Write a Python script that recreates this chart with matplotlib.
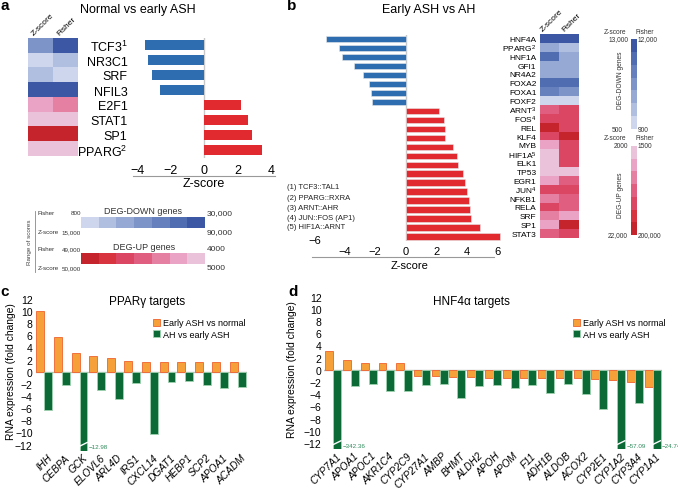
import matplotlib
matplotlib.use('Agg')
import matplotlib.pyplot as plt
import numpy as np
from matplotlib.colors import to_rgb
from matplotlib.patches import Patch
from matplotlib.lines import Line2D

plt.rcParams['font.family'] = ['Liberation Sans', 'DejaVu Sans']
plt.rcParams['mathtext.fontset'] = 'custom'
plt.rcParams['mathtext.rm'] = 'Liberation Sans'
plt.rcParams['mathtext.it'] = 'Liberation Sans:italic'
plt.rcParams['axes.unicode_minus'] = True

# ---------------- data ----------------
# panel a
a_labels = ['TCF3$^1$', 'NR3C1', 'SRF', 'NFIL3', 'E2F1', 'STAT1', 'SP1', 'PPARG$^2$']
a_z = [-3.54, -3.38, -3.14, -2.62, 2.24, 2.66, 2.86, 3.5]
a_hm_z = [-4, -1, -2, -7, 2, 1, 7, 1]      # colour level (neg = DEG-down scale, pos = DEG-up scale)
a_hm_f = [-7, -2, -1, -7, 3, 1, 7, 1]
a_xticks = [-4, -2, 0, 2, 4]

# panel b
b_labels = ['HNF4A', 'PPARG$^2$', 'HNF1A', 'GFI1', 'NR4A2', 'FOXA2', 'FOXA1', 'FOXF2',
            'ARNT$^3$', 'FOS$^4$', 'REL', 'KLF4', 'MYB', 'HIF1A$^5$', 'ELK1', 'TP53', 'EGR1',
            'JUN$^4$', 'NFKB1', 'RELA', 'SRF', 'SP1', 'STAT3']
b_z = [-5.21, -4.36, -4.18, -3.36, -2.79, -2.42, -2.27, -2.18,
       2.18, 2.53, 2.57, 2.57, 3.12, 3.38, 3.44, 3.75, 3.90, 3.99, 4.14, 4.23, 4.27, 4.86, 6.2]
b_hm_z = [-7, -3, -6, -3, -3, -6, -5, -1, 4, 5, 7, 5, 2, 1, 1, 1, 2, 5, 3, 5, 3, 2, 4]
b_hm_f = [-7, -2, -3, -3, -3, -6, -4, -1, 5, 5, 5, 7, 5, 5, 5, 1, 4, 5, 4, 4, 2, 7, 5]
b_xticks = [-4, -2, 0, 2, 4, 6]
b_notes = ['(1) TCF3::TAL1', '(2) PPARG::RXRA', '(3) ARNT::AHR', '(4) JUN::FOS (AP1)', '(5) HIF1A::ARNT']

# panel c
c_genes = ['IHH', 'CEBPA', 'GCK', 'ELOVL6', 'ARL4D', 'IRS1', 'CXCL14', 'DGAT1', 'HEBP1', 'SCP2', 'APOA1', 'ACADM']
c_early = [9.9, 5.7, 3.0, 2.5, 2.25, 1.75, 1.6, 1.6, 1.6, 1.6, 1.6, 1.6]
c_ah = [-6.25, -2.15, -12.98, -3.0, -4.55, -1.92, -10.2, -1.75, -1.48, -2.2, -2.75, -2.52]

# panel d
d_genes = ['CYP7A1', 'APOA1', 'APOC1', 'AKR1C4', 'CYP2C9', 'CYP27A1', 'AMBP', 'BHMT', 'ALDH2', 'APOH',
           'APOM', 'F11', 'ADH1B', 'ALDOB', 'ACOX2', 'CYP2E1', 'CYP1A2', 'CYP3A4', 'CYP1A1']
d_early = [3.0, 1.6, 1.15, 1.05, 1.05, -1.0, -1.0, -1.15, -1.2, -1.3, -1.3, -1.3, -1.3, -1.3, -1.37,
           -1.6, -1.7, -2.0, -2.85]
d_ah = [-342.36, -2.7, -2.3, -3.55, -3.5, -2.57, -2.4, -4.6, -2.7, -2.45, -3.0, -2.45, -3.85, -2.3,
        -3.95, -6.45, -57.09, -5.4, -24.74]
fc_yticks = list(range(-12, 13, 2))

# colour scales
DOWN = ['#cdd6ec', '#b0bee0', '#96a9d4', '#7d94c9', '#6680bd', '#506db2', '#3c58a5']
UP = ['#eac3da', '#eaa3c4', '#e680a3', '#e05f80', '#db4762', '#d83440', '#c5242d']
BLUE = '#2f6db1'
RED = '#e02a30'
ORANGE = '#f6a03a'
ORANGE_EDGE = '#f0622e'
GREEN = '#0c6a37'
GREEN_EDGE = '#9fd2b0'

def lvl(l):
    return to_rgb(DOWN[-l - 1]) if l < 0 else to_rgb(UP[l - 1])

# ---------------- figure ----------------
W, H = 678, 489
fig = plt.figure(figsize=(W / 100, H / 100), dpi=100)

def add_ax(l, t, r, b):
    return fig.add_axes([l / W, 1 - b / H, (r - l) / W, (b - t) / H])

def ftext(x, y, s, **kw):
    return fig.text(x / W, 1 - y / H, s, **kw)

def fline(x0, y0, x1, y1, **kw):
    fig.add_artist(Line2D([x0 / W, x1 / W], [1 - y0 / H, 1 - y1 / H], transform=fig.transFigure, **kw))

def clean(ax):
    for s in ax.spines.values():
        s.set_visible(False)

# panel letters & titles
for x, y, s in [(5, 6, 'a'), (292, 6, 'b'), (5, 292, 'c'), (293, 292, 'd')]:
    ftext(x, y, s, fontsize=11, fontweight='bold', ha='center', va='center')
ftext(138, 10, 'Normal vs early ASH', fontsize=9, ha='center', va='center')
ftext(429, 10, 'Early ASH vs AH', fontsize=9, ha='center', va='center')

# ---- panel a heatmap
ax = add_ax(28, 39, 78, 157)
img = np.array([[lvl(z), lvl(f)] for z, f in zip(a_hm_z, a_hm_f)])
ax.imshow(img, aspect='auto', interpolation='nearest')
ax.axis('off')
ftext(35, 37, 'Z-score', fontsize=6, rotation=45, rotation_mode='anchor', ha='left', va='bottom')
ftext(61, 37, 'Fisher', fontsize=6, rotation=45, rotation_mode='anchor', ha='left', va='bottom')

# ---- panel a bars
ax = add_ax(133.2, 38.5, 274.9, 158.5)
y = np.arange(len(a_z))
ax.barh(y, a_z, height=0.65, color=[BLUE if v < 0 else RED for v in a_z], zorder=2)
ax.axvline(0, color='#c8c8c8', lw=1, zorder=1)
ax.set_xlim(-4.25, 4.25)
ax.set_ylim(len(a_z) - 0.5, -0.5)
ax.set_xticks(a_xticks)
ax.set_yticks(y, a_labels)
ax.tick_params(length=0, labelsize=9)
ax.tick_params(axis='x', pad=4.5)
ax.tick_params(axis='y', pad=4)
clean(ax)
fline(133, 177, 275, 177, color='#999999', lw=0.8)
ftext(204, 184, 'Z-score', fontsize=9, ha='center', va='center')

# ---- panel a range legend
ax = add_ax(81, 218, 205, 229)
ax.imshow(np.array([[to_rgb(c) for c in DOWN]]), aspect='auto', interpolation='nearest')
ax.axis('off')
ax = add_ax(81, 254, 205, 265)
ax.imshow(np.array([[to_rgb(c) for c in UP[::-1]]]), aspect='auto', interpolation='nearest')
ax.axis('off')
fline(35, 212, 35, 273, color='#888888', lw=0.6)
ftext(29, 242, 'Range of scores', fontsize=4.5, rotation=90, ha='center', va='center', color='#444444')
for yy, a, b in [(214, 'Fisher', '800'), (233, 'Z-score', '15,000'), (250, 'Fisher', '49,000'), (269, 'Z-score', '50,000')]:
    ftext(38, yy, a, fontsize=4.5, ha='left', va='center', color='#333333')
    ftext(81, yy, b, fontsize=4.5, ha='right', va='center', color='#333333')
for yy, s in [(214, '30,000'), (233, '90,000'), (250, '4000'), (269, '5000')]:
    ftext(207, yy, s, fontsize=6, ha='left', va='center', color='#333333')
ftext(143, 211, 'DEG-DOWN genes', fontsize=6.5, ha='center', va='center', color='#333333')
ftext(144, 248, 'DEG-UP genes', fontsize=6.5, ha='center', va='center', color='#333333')

# ---- panel b bars
ax = add_ax(312.4, 35.5, 502, 242.3)
y = np.arange(len(b_z))
ax.barh(y, b_z, height=0.75, color=[BLUE if v < 0 else RED for v in b_z], zorder=2,
        edgecolor='#e8e8e8', linewidth=0.4)
ax.axvline(0, color='#c8c8c8', lw=1, zorder=1)
ax.set_xlim(-6.1, 6.3)
ax.set_ylim(len(b_z) - 0.5, -0.5)
ax.set_xticks(b_xticks)
ax.set_yticks([])
ax.tick_params(length=0, labelsize=8, pad=3.5)
clean(ax)
ftext(315, 241, '\u22126', fontsize=8, ha='center', va='center')
fline(312, 258, 494, 258, color='#999999', lw=0.8)
ftext(410, 266, 'Z-score', fontsize=8, ha='center', va='center')
for i, s in enumerate(b_notes):
    ftext(287, 188 + 10 * i, s, fontsize=5.5, ha='left', va='center', color='#222222')

# ---- panel b heatmap
ax = add_ax(540, 35, 579, 239)
img = np.array([[lvl(z), lvl(f)] for z, f in zip(b_hm_z, b_hm_f)])
ax.imshow(img, aspect='auto', interpolation='nearest')
ax.set_xticks([])
ax.set_yticks(np.arange(len(b_labels)), b_labels)
ax.tick_params(length=0, labelsize=6.0, pad=2.5)
clean(ax)
ftext(544, 33, 'Z-score', fontsize=6, rotation=45, rotation_mode='anchor', ha='left', va='bottom')
ftext(566, 33, 'Fisher', fontsize=6, rotation=45, rotation_mode='anchor', ha='left', va='bottom')

# ---- panel b colour scales
ax = add_ax(631, 40, 637, 130)
ax.imshow(np.array([[to_rgb(c)] for c in DOWN[::-1]]), aspect='auto', interpolation='nearest')
ax.axis('off')
ax = add_ax(631, 147, 637, 236)
ax.imshow(np.array([[to_rgb(c)] for c in UP]), aspect='auto', interpolation='nearest')
ax.axis('off')
cb = dict(fontsize=4.8, va='center', color='#333333')
ftext(615, 33, 'Z-score', ha='center', **cb)
ftext(645, 33, 'Fisher', ha='center', **cb)
ftext(629, 40, '13,000', ha='right', **cb)
ftext(638, 40, '12,000', ha='left', **cb)
ftext(623, 130, '500', ha='right', **cb)
ftext(638, 130, '900', ha='left', **cb)
ftext(615, 139, 'Z-score', ha='center', **cb)
ftext(645, 139, 'Fisher', ha='center', **cb)
ftext(628, 146, '2000', ha='right', **cb)
ftext(638, 146, '1500', ha='left', **cb)
ftext(628, 236, '22,000', ha='right', **cb)
ftext(638, 236, '200,000', ha='left', **cb)
ftext(620, 80, 'DEG-DOWN genes', rotation=90, ha='center', **cb)
ftext(620, 195, 'DEG-UP genes', rotation=90, ha='center', **cb)

# ---- panels c, d
def fc_panel(rect, genes, early, ah, title, title_xy, leg_xy, ylab_x, ylab_y):
    ax = add_ax(*rect)
    x = np.arange(len(genes))
    w = 0.45
    ax.bar(x - w, early, width=w, align='edge', color=ORANGE, edgecolor=ORANGE_EDGE, linewidth=0.6, zorder=2)
    ax.bar(x, ah, width=w, align='edge', color=GREEN, edgecolor=GREEN_EDGE, linewidth=0.6, zorder=2)
    ax.axhline(0, color='#bdbdbd', lw=1, zorder=1)
    ax.set_xlim(-0.5, len(genes) - 0.5)
    ax.set_ylim(-13.0, 12.3)
    ax.set_yticks(fc_yticks)
    ax.set_xticks(x + 0.15, genes, fontstyle='italic', fontsize=7.3, rotation=45,
                  ha='right', rotation_mode='anchor')
    ax.tick_params(length=0)
    ax.tick_params(axis='y', labelsize=7.5, pad=2)
    ax.tick_params(axis='x', pad=1)
    clean(ax)
    for xi, v in zip(x, ah):
        if v < -12.5:
            ax.plot([xi - 0.02, xi + w + 0.02], [-12.3, -11.6], color='white', lw=1.0, zorder=3,
                    solid_capstyle='butt')
            ax.text(xi + w + 0.08, -12.35, '\u2212{:.2f}'.format(-v), fontsize=4.5, color='#2e8b5a',
                    ha='left', va='center', clip_on=False)
    ftext(title_xy[0], title_xy[1], title, fontsize=8.5, ha='center', va='center')
    ftext(ylab_x, ylab_y, 'RNA expression (fold change)', fontsize=7.4, rotation=90, ha='center', va='center')
    handles = [Patch(facecolor=ORANGE, edgecolor=ORANGE_EDGE, linewidth=0.6, label='Early ASH vs normal'),
               Patch(facecolor=GREEN, edgecolor=GREEN_EDGE, linewidth=0.6, label='AH vs early ASH')]
    ax.legend(handles=handles, loc='upper left', bbox_to_anchor=(leg_xy[0] / W, 1 - leg_xy[1] / H),
              bbox_transform=fig.transFigure, frameon=False, fontsize=6.5, handlelength=0.8,
              handleheight=0.8, handletextpad=0.4, labelspacing=0.25, borderpad=0, borderaxespad=0)
    return ax

fc_panel((35.5, 297.9, 246.7, 451.7), c_genes, c_early, c_ah, 'PPAR\u03b3 targets', (147, 302),
         (152.5, 319.5), 11, 372)
fc_panel((324.4, 295.7, 661.5, 450.0), d_genes, d_early, d_ah, 'HNF4\u03b1 targets', (471, 302),
         (572.5, 319.5), 292, 370)

fig.savefig('out.png', dpi=100)
